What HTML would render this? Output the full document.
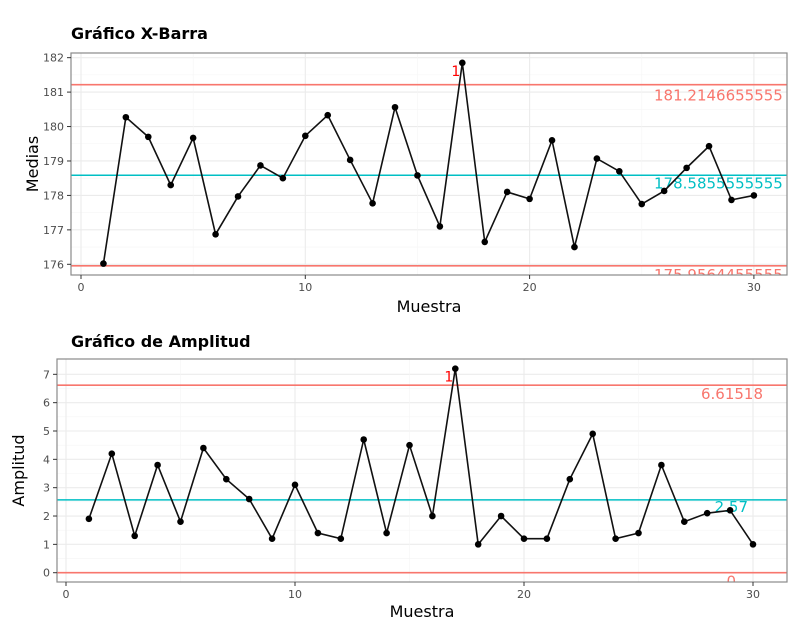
<!DOCTYPE html>
<html><head><meta charset="utf-8"><style>
body{margin:0;background:#fff;}
svg text{font-family:"DejaVu Sans","Liberation Sans",sans-serif;}
</style></head><body>
<svg id="s" width="805" height="639" xmlns="http://www.w3.org/2000/svg"></svg>
<script>
const s=document.getElementById('s');let h='';
function panel(o){
 const {L,T,R,B,x0,xs,yv0,yp0,ys,ymin,ymax,data,lines,title,ylab,ty,xly,cid}=o;
 const X=v=>x0+xs*v, Y=v=>yp0-(v-yv0)*ys;
 h+=`<defs><clipPath id="${cid}"><rect x="${L}" y="${T}" width="${R-L}" height="${B-T}"/></clipPath></defs>`;
 h+=`<g clip-path="url(#${cid})">`;
 for(let v=ymin;v<=ymax;v+=0.5){const y=Y(v);h+=`<line x1="${L}" x2="${R}" y1="${y}" y2="${y}" stroke="${Number.isInteger(v)?'#ebebeb':'#f5f5f5'}" stroke-width="${Number.isInteger(v)?1.1:0.6}"/>`;}
 for(let v=0;v<=30;v+=5){const x=X(v);h+=`<line y1="${T}" y2="${B}" x1="${x}" x2="${x}" stroke="${v%10==0?'#ebebeb':'#f5f5f5'}" stroke-width="${v%10==0?1.1:0.6}"/>`;}
 lines.forEach(l=>{const y=Y(l.v);h+=`<line x1="${L}" x2="${R}" y1="${y}" y2="${y}" stroke="${l.c}" stroke-width="1.6"/><text x="${l.tx}" y="${y+l.dy}" fill="${l.c}" font-size="15" text-anchor="${l.a||'start'}">${l.t}</text>`;});
 h+=`<polyline fill="none" stroke="#111" stroke-width="1.6" points="${data.map((d,i)=>X(i+1)+','+Y(d)).join(' ')}"/>`;
 data.forEach((d,i)=>h+=`<circle cx="${X(i+1)}" cy="${Y(d)}" r="3.3" fill="#000"/>`);
 h+=`<text x="${X(17)-2}" y="${Y(data[16])+13}" fill="#f00" font-size="14" text-anchor="end">1</text>`;
 h+=`</g><rect x="${L}" y="${T}" width="${R-L}" height="${B-T}" fill="none" stroke="#8a8a8a" stroke-width="1.2"/>`;
 for(let v=Math.ceil(ymin);v<=ymax;v++){const y=Y(v);h+=`<line x1="${L-4}" x2="${L}" y1="${y}" y2="${y}" stroke="#333"/><text x="${L-7}" y="${y+4}" font-size="11" fill="#4d4d4d" text-anchor="end">${v}</text>`;}
 for(let v=0;v<=30;v+=10){const x=X(v);h+=`<line x1="${x}" x2="${x}" y1="${B}" y2="${B+4}" stroke="#333"/><text x="${x}" y="${B+16}" font-size="11" fill="#4d4d4d" text-anchor="middle">${v}</text>`;}
 h+=`<text x="71" y="${ty}" font-size="16" font-weight="bold" fill="#000">${title}</text>`;
 h+=`<text x="${(L+R)/2}" y="${xly}" font-size="16" text-anchor="middle" fill="#000">Muestra</text>`;
 h+=`<text transform="translate(${L-33},${(T+B)/2}) rotate(-90)" font-size="16" text-anchor="middle" fill="#000">${ylab}</text>`;
}
panel({L:71,T:53,R:787,B:275,x0:81,xs:22.43,yv0:176,yp0:264.3,ys:34.44,ymin:176,ymax:182,cid:'c1',
 data:[176.02,180.27,179.7,178.3,179.67,176.87,177.97,178.87,178.5,179.73,180.33,179.03,177.77,180.56,178.58,177.1,181.85,176.65,178.1,177.9,179.6,176.5,179.07,178.7,177.75,178.13,178.8,179.43,177.87,178.0],
 lines:[{v:181.2147,c:'#f8766d',t:'181.2146655555',tx:654,dy:16},{v:178.5856,c:'#00bfc4',t:'178.5855555555',tx:654,dy:13},{v:175.9564,c:'#f8766d',t:'175.9564455555',tx:654,dy:14}],
 title:'Gráfico X-Barra',ylab:'Medias',ty:39,xly:312});
panel({L:57,T:359,R:787,B:582,x0:66,xs:22.9,yv0:0,yp0:572.7,ys:28.34,ymin:0,ymax:7,cid:'c2',
 data:[1.9,4.2,1.3,3.8,1.8,4.4,3.3,2.6,1.2,3.1,1.4,1.2,4.7,1.4,4.5,2.0,7.2,1.0,2.0,1.2,1.2,3.3,4.9,1.2,1.4,3.8,1.8,2.1,2.2,1.0],
 lines:[{v:6.61518,c:'#f8766d',t:'6.61518',tx:763,dy:14,a:'end'},{v:2.57,c:'#00bfc4',t:'2.57',tx:748,dy:12,a:'end'},{v:0,c:'#f8766d',t:'0',tx:736,dy:14,a:'end'}],
 title:'Gráfico de Amplitud',ylab:'Amplitud',ty:347,xly:617});
s.innerHTML=h;
</script>
</body></html>
